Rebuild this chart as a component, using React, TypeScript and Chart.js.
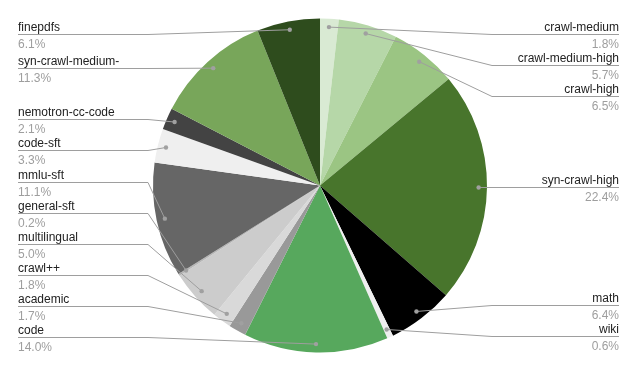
import React, { useEffect, useRef } from "react";
import { Chart, registerables } from "chart.js";

Chart.register(...registerables);

const categories = [
  "crawl-medium",
  "crawl-medium-high",
  "crawl-high",
  "syn-crawl-high",
  "math",
  "wiki",
  "code",
  "academic",
  "crawl++",
  "multilingual",
  "general-sft",
  "mmlu-sft",
  "code-sft",
  "nemotron-cc-code",
  "syn-crawl-medium-",
  "finepdfs",
];

const shares = [1.8, 5.7, 6.5, 22.4, 6.4, 0.6, 14.0, 1.7, 1.8, 5.0, 0.2, 11.1, 3.3, 2.1, 11.3, 6.1];

const sliceColors = [
  "#d9ead3",
  "#b6d7a8",
  "#9bc583",
  "#48752c",
  "#000000",
  "#efefef",
  "#57a85d",
  "#999999",
  "#d9d9d9",
  "#cccccc",
  "#b7b7b7",
  "#666666",
  "#efefef",
  "#434343",
  "#78a65a",
  "#2e4c1d",
];

const FONT = '12px "Liberation Sans", Arial, sans-serif';

const labelPlugin = {
  id: "outsideLabels",
  afterDraw(chart: any) {
    const ctx = chart.ctx;
    const meta = chart.getDatasetMeta(0);
    const data: number[] = chart.data.datasets[0].data;
    const labels: string[] = chart.data.labels;
    const total = data.reduce((a, b) => a + b, 0);
    const W = chart.width;
    const spacing = 31;
    const minY = 34;
    const maxY = 337;
    const leftX = 18;
    const rightX = W - 20;

    type Item = { i: number; dx: number; dy: number; want: number; y: number; right: boolean };
    const items: Item[] = [];
    let cx = 0, r = 0;
    meta.data.forEach((arc: any, i: number) => {
      const mid = (arc.startAngle + arc.endAngle) / 2;
      cx = arc.x;
      r = arc.outerRadius;
      const dx = arc.x + Math.cos(mid) * r * 0.95;
      const dy = arc.y + Math.sin(mid) * r * 0.95;
      items.push({ i, dx, dy, want: dy, y: dy, right: Math.cos(mid) >= 0 });
    });

    const layout = (side: Item[]) => {
      side.sort((a, b) => a.want - b.want);
      let clusters = side.map((it) => [it]);
      const place = (c: Item[]) => {
        const mean = c.reduce((s, it) => s + it.want, 0) / c.length;
        const span = (c.length - 1) * spacing;
        let top = mean - span / 2;
        if (top < minY) top = minY;
        if (top + span > maxY) top = maxY - span;
        c.forEach((it, k) => (it.y = top + k * spacing));
      };
      let changed = true;
      while (changed) {
        changed = false;
        clusters.forEach(place);
        for (let k = 0; k < clusters.length - 1; k++) {
          const a = clusters[k];
          const b = clusters[k + 1];
          if (b[0].y - a[a.length - 1].y < spacing - 0.01) {
            clusters.splice(k, 2, a.concat(b));
            changed = true;
            break;
          }
        }
      }
      clusters.forEach(place);
    };
    layout(items.filter((it) => it.right));
    layout(items.filter((it) => !it.right));

    ctx.save();
    ctx.font = FONT;
    items.forEach((it) => {
      const ly = Math.round(it.y) + 0.5;
      const bend = it.right ? cx + r + 5 : cx - r - 5;
      const endX = it.right ? rightX : leftX;
      ctx.strokeStyle = "#9e9e9e";
      ctx.lineWidth = 1;
      ctx.beginPath();
      ctx.moveTo(endX, ly);
      ctx.lineTo(bend, ly);
      ctx.lineTo(it.dx, it.dy);
      ctx.stroke();
      ctx.fillStyle = "#a0a0a0";
      ctx.beginPath();
      ctx.arc(it.dx, it.dy, 2.2, 0, Math.PI * 2);
      ctx.fill();
      ctx.textAlign = it.right ? "right" : "left";
      ctx.textBaseline = "alphabetic";
      ctx.fillStyle = "#222222";
      ctx.fillText(labels[it.i], endX, ly - 4);
      ctx.fillStyle = "#9e9e9e";
      ctx.fillText(((data[it.i] / total) * 100).toFixed(1) + "%", endX, ly + 13);
    });
    ctx.restore();
  },
};

export default function App() {
  const ref = useRef<HTMLCanvasElement | null>(null);
  useEffect(() => {
    if (!ref.current) return;
    const chart = new Chart(ref.current, {
      type: "pie",
      data: {
        labels: categories,
        datasets: [
          {
            data: shares,
            backgroundColor: sliceColors,
            borderWidth: 0,
          },
        ],
      },
      options: {
        responsive: false,
        animation: false,
        layout: { padding: { top: 18, bottom: 18, left: 153, right: 152 } },
        plugins: {
          legend: { display: false },
          tooltip: { enabled: false },
        },
      },
      plugins: [labelPlugin],
    });
    return () => chart.destroy();
  }, []);
  return (
    <div style={{ position: "fixed", left: 0, top: 0, width: 639, height: 371, background: "#fff" }}>
      <canvas ref={ref} width={639} height={371} style={{ display: "block" }} />
    </div>
  );
}
